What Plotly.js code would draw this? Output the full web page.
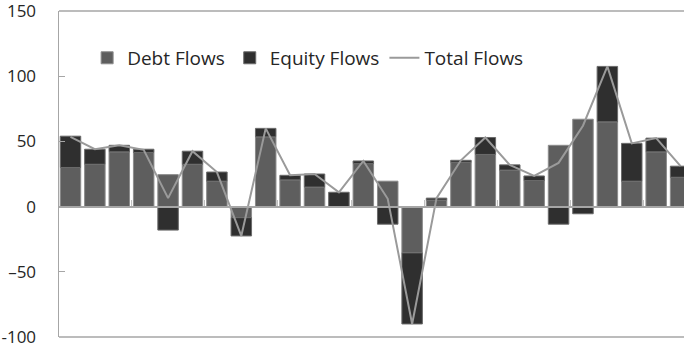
<!DOCTYPE html>
<html>
<head>
<meta charset="utf-8">
<script src="https://cdn.plot.ly/plotly-3.0.1.min.js"></script>
<style>html,body{margin:0;padding:0;background:#fff;}#chart{width:684px;height:347px;}</style>
</head>
<body>
<div id="chart"></div>
<script>
const periods = [0, 1, 2, 3, 4, 5, 6, 7, 8, 9, 10, 11, 12, 13, 14, 15, 16, 17, 18, 19, 20, 21, 22, 23, 24, 25];
const debtFlows = [30, 32.5, 42, 41.5, 24.5, 32.5, 19.5, -8.5, 53.5, 20.5, 15, 0, 33, 19.5, -35.5, 5, 34, 40, 28, 20, 47, 67, 65, 19.5, 42, 22.5];
const equityFlows = [24, 11.5, 5, 2.5, -18, 10, 7, -14, 6.5, 3.5, 10, 11, 2, -13.5, -54.5, 1.5, 1.5, 13, 4, 3.5, -13.5, -5.5, 42.5, 29, 10.5, 8.5];
const totalFlows = [53.5, 44, 47, 43.5, 6.5, 42.5, 26.5, -22.5, 60, 24, 25, 11, 35, 6, -90, 6.5, 35.5, 53, 32, 23.5, 33.5, 62, 107.5, 48.5, 52.5, 31];
const yTickVals = [150, 100, 50, 0, -50, -100];
const yTickText = ['150', '100', '50', '0', '\u201350', '-100'];

const fam = '"Open Sans", "Noto Sans", sans-serif';
const tickFont = {family: fam, size: 17, color: '#262626'};
const legendFont = {family: fam, size: 19, color: '#262626'};
const axisGray = '#a6a6a6';

const traces = [
  {type: 'bar', name: 'Debt Flows', x: periods, y: debtFlows,
   marker: {color: '#5e5e5e', line: {color: '#8c8c8c', width: 1}}},
  {type: 'bar', name: 'Equity Flows', x: periods, y: equityFlows,
   marker: {color: '#2f2f2f', line: {color: '#6a6a6a', width: 1}}},
  {type: 'scatter', mode: 'lines', name: 'Total Flows', x: periods, y: totalFlows,
   line: {color: '#9a9a9a', width: 2}}
];

const layout = {
  width: 684, height: 347,
  margin: {l: 59, r: 0, t: 11, b: 10},
  paper_bgcolor: '#fff', plot_bgcolor: '#fff',
  font: tickFont,
  barmode: 'relative', bargap: 0.16,
  showlegend: true,
  legend: {orientation: 'h', x: 0.045, xanchor: 'left', y: 0.856, yanchor: 'middle',
           font: legendFont, bgcolor: 'rgba(0,0,0,0)', traceorder: 'normal'},
  xaxis: {range: [-0.47, 25.14], anchor: 'free', position: 0.4,
          showline: true, linecolor: axisGray, linewidth: 2, layer: 'above traces',
          showgrid: false, zeroline: false, showticklabels: false,
          ticks: 'inside', tickmode: 'linear', tick0: -0.5, dtick: 3,
          ticklen: 6, tickwidth: 1, tickcolor: '#c0c0c0', fixedrange: true},
  yaxis: {range: [-100, 150], showline: true, linecolor: axisGray, linewidth: 1.5,
          showgrid: false, zeroline: false, tickmode: 'array', tickvals: yTickVals, ticktext: yTickText,
          ticks: 'inside', ticklen: 6, tickwidth: 1, tickcolor: axisGray,
          ticklabelstandoff: 18, ticklabeloverflow: 'allow', tickfont: tickFont, fixedrange: true},
  shapes: [
    {type: 'line', xref: 'paper', yref: 'paper', x0: 0, x1: 1, y0: 1, y1: 1, line: {color: axisGray, width: 1.5}},
    {type: 'line', xref: 'paper', yref: 'paper', x0: 0, x1: 1, y0: 0, y1: 0, line: {color: axisGray, width: 1.5}}
  ]
};

Plotly.newPlot('chart', traces, layout, {staticPlot: true, displayModeBar: false});
</script>
</body>
</html>
